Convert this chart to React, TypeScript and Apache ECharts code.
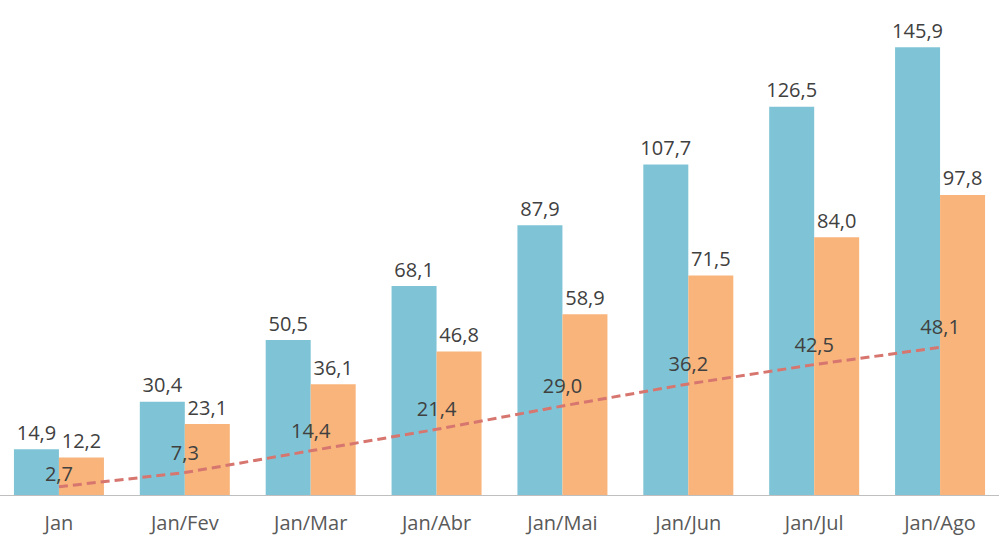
import React, { useEffect, useRef } from "react";
import * as echarts from "echarts";

const categories = ["Jan", "Jan/Fev", "Jan/Mar", "Jan/Abr", "Jan/Mai", "Jan/Jun", "Jan/Jul", "Jan/Ago"];
const blueValues = [14.9, 30.4, 50.5, 68.1, 87.9, 107.7, 126.5, 145.9];
const orangeValues = [12.2, 23.1, 36.1, 46.8, 58.9, 71.5, 84.0, 97.8];
const lineValues = [2.7, 7.3, 14.4, 21.4, 29.0, 36.2, 42.5, 48.1];

const fmt = (v: number) => v.toFixed(1).replace(".", ",");
const FONT = "'Open Sans', 'Noto Sans', sans-serif";

export default function App() {
  const ref = useRef<HTMLDivElement>(null);
  useEffect(() => {
    if (!ref.current) return;
    const chart = echarts.init(ref.current, null, { renderer: "svg" });
    const labelStyle = {
      show: true,
      position: "top" as const,
      color: "#404040",
      fontSize: 20,
      fontFamily: FONT,
      formatter: (p: any) => fmt(p.value as number),
    };
    chart.setOption({
      animation: false,
      grid: { left: 0, right: 0, top: 4, bottom: 44, containLabel: false },
      xAxis: {
        type: "category",
        data: categories,
        axisLine: { show: true, lineStyle: { color: "#bfbfbf", width: 1 } },
        axisTick: { show: false },
        axisLabel: { color: "#595959", fontSize: 20, fontFamily: FONT, margin: 17 },
      },
      yAxis: {
        type: "value",
        min: 0,
        max: 160,
        show: false,
        splitLine: { show: false },
      },
      series: [
        {
          type: "bar",
          data: blueValues,
          barWidth: 45,
          barGap: "0%",
          itemStyle: { color: "#7fc4d6" },
          label: { ...labelStyle, distance: 7 },
        },
        {
          type: "bar",
          data: orangeValues,
          barWidth: 45,
          barGap: "0%",
          itemStyle: { color: "#f8b47b" },
          label: { ...labelStyle, distance: 7 },
        },
        {
          type: "line",
          data: lineValues.map((v, i) => (i === 0 ? { value: v, label: { distance: 3 } } : v)),
          symbol: "circle",
          symbolSize: 1,
          itemStyle: { color: "rgba(0,0,0,0)" },
          lineStyle: { color: "#d7756f", width: 3, type: [9, 5] },
          label: { ...labelStyle, distance: 10 },
          z: 5,
        },
      ],
    });
    return () => chart.dispose();
  }, []);
  return (
    <div
      style={{
        position: "absolute",
        left: 0,
        top: 0,
        width: 999,
        height: 539,
        overflow: "hidden",
        background: "#fff",
      }}
    >
      <div ref={ref} style={{ position: "absolute", left: -4, top: 0, width: 1007, height: 539 }} />
    </div>
  );
}
